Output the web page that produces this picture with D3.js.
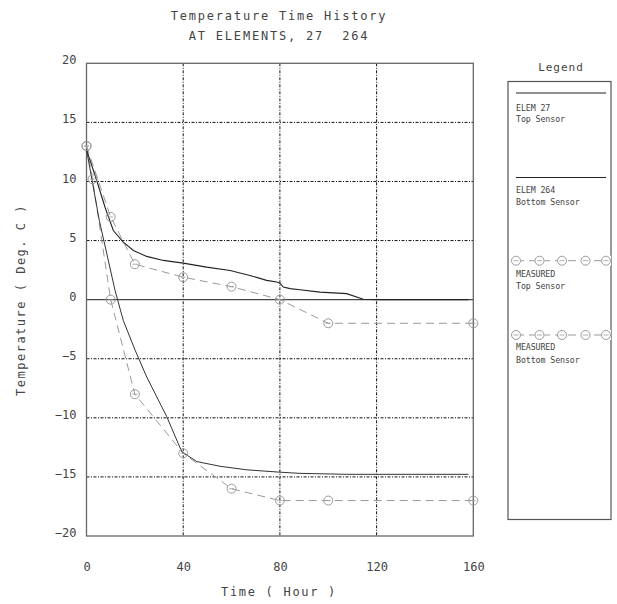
<!DOCTYPE html>
<html><head><meta charset="utf-8">
<script src="https://cdn.jsdelivr.net/npm/d3@7"></script>
<style>
html,body{margin:0;padding:0;background:#fff;}
text{font-family:"DejaVu Sans Mono","Liberation Mono",monospace;fill:#444;white-space:pre;}
</style></head>
<body>
<svg id="chart" width="617" height="604"></svg>
<script>
// ---- data ----
const titleLines = ["Temperature Time History", "AT ELEMENTS, 27  264"];
const xTicks = [0, 40, 80, 120, 160];
const yTicks = [-20, -15, -10, -5, 0, 5, 10, 15, 20];
const xLabel = "Time ( Hour )";
const yLabel = "Temperature ( Deg. C )";

const elem27Time = [0, 4.2, 7.7, 11.1, 15.2, 19.4, 24.9, 31.8, 40, 49.7, 59.4, 67.6, 74.5, 78.7, 80, 81.4, 84.2, 88.3, 96.6, 107.6, 114.5, 120, 158];
const elem27Temp = [12.7, 10.1, 7.8, 5.85, 4.87, 4.16, 3.66, 3.32, 3.09, 2.75, 2.47, 2.05, 1.63, 1.49, 1.4, 1.06, 0.93, 0.84, 0.64, 0.51, 0.03, 0, 0];

const elem264Time = [0, 5.3, 11.8, 15.2, 20.1, 24.9, 33.2, 39.4, 45.6, 55.2, 66.3, 80, 88.3, 107.6, 158];
const elem264Temp = [12.7, 6.7, 0.79, -1.75, -4.27, -6.54, -9.9, -12.87, -13.7, -14.1, -14.4, -14.6, -14.7, -14.78, -14.78];

const measTopTime = [0, 10, 20, 40, 60, 80, 100, 160];
const measTopTemp = [13, 7, 3, 1.9, 1.1, 0, -2, -2];

const measBotTime = [0, 2.5, 10, 20, 40, 60, 80, 100, 160];
const measBotTemp = [13, 10.2, 0, -8, -13, -16, -17, -17, -17];

const legendItems = [
  {kind: "solid", lines: ["ELEM 27", "Top Sensor"]},
  {kind: "solid", lines: ["ELEM 264", "Bottom Sensor"]},
  {kind: "measured", lines: ["MEASURED", "Top Sensor"]},
  {kind: "measured", lines: ["MEASURED", "Bottom Sensor"]}
];

// ---- layout ----
const svg = d3.select("#chart");
const L = 86.5, R = 473.3, T = 63.3, B = 536;
const x = d3.scaleLinear().domain([0, 160]).range([L, R]);
const y = d3.scaleLinear().domain([-20, 20]).range([B, T]);
const DARK = "#222", GRAY = "#9a9a9a";

// title
svg.selectAll("text.title").data(titleLines).join("text")
  .attr("class", "title")
  .attr("x", 279).attr("y", (d, i) => i === 0 ? 20 : 39.5)
  .attr("text-anchor", "middle")
  .style("font-size", "12px").style("letter-spacing", "1.8px")
  .text(d => d);

// grid
const grid = svg.append("g");
grid.selectAll("line.gx").data(xTicks.filter(t => t > 0 && t < 160)).join("line")
  .attr("x1", d => x(d)).attr("x2", d => x(d)).attr("y1", T).attr("y2", B)
  .attr("stroke", "#111").attr("stroke-width", 1).attr("stroke-dasharray", "3,1.5,1,1.5");
grid.selectAll("line.gy").data(yTicks.filter(t => t !== 0 && t > -20 && t < 20)).join("line")
  .attr("x1", L).attr("x2", R).attr("y1", d => y(d)).attr("y2", d => y(d))
  .attr("stroke", "#111").attr("stroke-width", 1).attr("stroke-dasharray", "3,1.5,1,1.5");

// zero line
svg.append("line").attr("x1", L).attr("x2", R).attr("y1", y(0)).attr("y2", y(0))
  .attr("stroke", "#444").attr("stroke-width", 1.3);

// frame
svg.append("rect").attr("x", L).attr("y", T).attr("width", R - L).attr("height", B - T)
  .attr("fill", "none").attr("stroke", "#666").attr("stroke-width", 1.3);

// axes via d3 axis generators
const fmt = d => d < 0 ? "\u2212" + Math.abs(d) : String(d);
const xAxis = svg.append("g").attr("transform", `translate(0,${B})`)
  .call(d3.axisBottom(x).tickValues(xTicks).tickSize(0).tickPadding(26).tickFormat(fmt));
xAxis.select(".domain").remove();
xAxis.selectAll("text").style("font-size", "12px").style("font-family", "'DejaVu Sans Mono',monospace").attr("fill", "#444");

const yAxis = svg.append("g").attr("transform", `translate(${L},0)`)
  .call(d3.axisLeft(y).tickValues(yTicks).tickSize(0).tickPadding(10).tickFormat(fmt));
yAxis.select(".domain").remove();
yAxis.selectAll("text").style("font-size", "12px").style("font-family", "'DejaVu Sans Mono',monospace").attr("fill", "#444")
  .attr("dy", "0.05em");

// axis titles
svg.append("text").attr("x", 279).attr("y", 596).attr("text-anchor", "middle")
  .style("font-size", "12px").style("letter-spacing", "1.7px").text(xLabel);
svg.append("text").attr("transform", "translate(24.5,300) rotate(-90)").attr("text-anchor", "middle")
  .style("font-size", "12px").style("letter-spacing", "1.5px").text(yLabel);

// series
const line = d3.line().x(d => x(d[0])).y(d => y(d[1]));
const zip = (a, b) => a.map((t, i) => [t, b[i]]);

const plot = svg.append("g");
plot.append("path").datum(zip(measTopTime, measTopTemp)).attr("d", line)
  .attr("fill", "none").attr("stroke", GRAY).attr("stroke-width", 1).attr("stroke-dasharray", "8,5");
plot.append("path").datum(zip(measBotTime, measBotTemp)).attr("d", line)
  .attr("fill", "none").attr("stroke", GRAY).attr("stroke-width", 1).attr("stroke-dasharray", "8,5");
plot.append("path").datum(zip(elem27Time, elem27Temp)).attr("d", line)
  .attr("fill", "none").attr("stroke", DARK).attr("stroke-width", 1.1);
plot.append("path").datum(zip(elem264Time, elem264Temp)).attr("d", line)
  .attr("fill", "none").attr("stroke", "#333").attr("stroke-width", 1);

function marker(g, cx, cy) {
  g.append("circle").attr("cx", cx).attr("cy", cy).attr("r", 4.5)
    .attr("fill", "none").attr("stroke", GRAY).attr("stroke-width", 1);
  g.append("line").attr("x1", cx - 2.5).attr("x2", cx + 2.5).attr("y1", cy).attr("y2", cy)
    .attr("stroke", GRAY).attr("stroke-width", 0.8);
}
zip(measTopTime, measTopTemp).forEach(d => marker(plot, x(d[0]), y(d[1])));
zip(measBotTime, measBotTemp).forEach(d => marker(plot, x(d[0]), y(d[1])));

// legend
const lg = svg.append("g");
lg.append("text").attr("x", 561).attr("y", 71).attr("text-anchor", "middle")
  .style("font-size", "11px").style("letter-spacing", "1px").text("Legend");
lg.append("rect").attr("x", 508).attr("y", 81.5).attr("width", 103).attr("height", 438)
  .attr("fill", "none").attr("stroke", "#555").attr("stroke-width", 1.2);
const symY = [93, 177.5, 260.7, 335];
const txtY = [[110.5, 121.5], [192.5, 204.5], [276.5, 288.5], [350, 362.5]];
legendItems.forEach((it, i) => {
  if (it.kind === "solid") {
    lg.append("line").attr("x1", 516).attr("x2", 606).attr("y1", symY[i]).attr("y2", symY[i])
      .attr("stroke", DARK).attr("stroke-width", 1.1);
  } else {
    lg.append("line").attr("x1", 516).attr("x2", 606).attr("y1", symY[i]).attr("y2", symY[i])
      .attr("stroke", GRAY).attr("stroke-width", 1).attr("stroke-dasharray", "8,5");
    [516, 539.5, 562, 585.5, 606].forEach(cx => {
      lg.append("rect").attr("x", cx - 5).attr("y", symY[i] - 5).attr("width", 10).attr("height", 10).attr("fill", "#fff");
      marker(lg, cx, symY[i]);
    });
  }
  it.lines.forEach((s, j) => {
    lg.append("text").attr("x", 516).attr("y", txtY[i][j])
      .style("font-size", "8.3px").style("letter-spacing", "-0.1px").attr("fill", "#333").text(s);
  });
});
</script>
</body></html>
